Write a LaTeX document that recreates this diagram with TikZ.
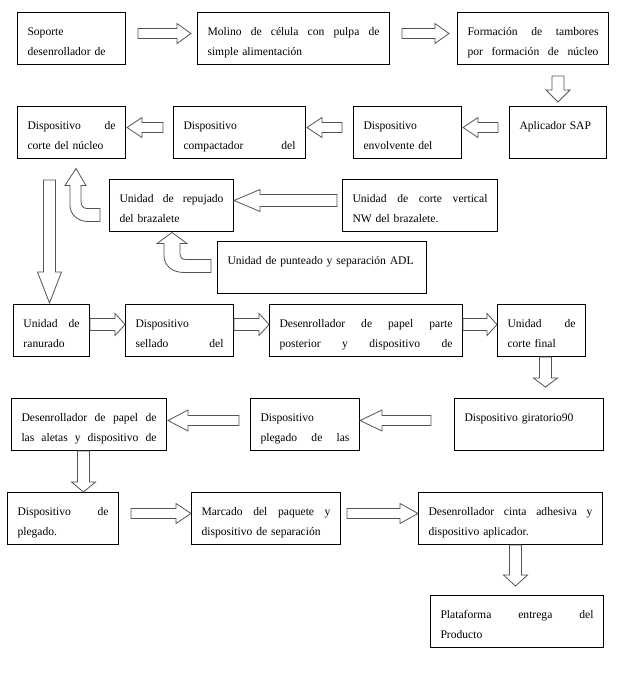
\documentclass[tikz,border=0pt]{standalone}
\usepackage{fontspec}
\setmainfont{Liberation Serif}
\usetikzlibrary{calc}

\tikzset{
    caja/.style={draw, line width=0.75pt, anchor=north west, minimum height=39pt,
        inner xsep=7.5pt, inner ysep=2pt, align=left,
        font=\fontsize{8.7}{15}\selectfont,
        execute at begin node={\rule{0pt}{14.3pt}},
        execute at end node={\unskip\strut}},
    flechabloque/.style={draw=gray!65!black, fill=white, line width=0.6pt}
}

% Blocksatz-Zeile
\newcommand{\justa}[1]{\leavevmode\hbox to\hsize{\spaceskip=0.25em plus 1fil\relax#1}}

% Blockpfeil: von #1 nach #2, Schaft #3, Kopf #4, Kopflaenge #5
\newcommand{\flecha}[5]{%
    \coordinate (fA) at (#1);
    \coordinate (fB) at (#2);
    \coordinate (fH) at ($(fB)!#5!(fA)$);
    \draw[flechabloque] ($(fA)!#3!90:(fB)$) -- ($(fH)!#3!90:(fB)$) -- ($(fH)!#4!90:(fB)$) -- (fB)
        -- ($(fH)!#4!-90:(fB)$) -- ($(fH)!#3!-90:(fB)$) -- ($(fA)!#3!-90:(fB)$) -- cycle;
}

\begin{document}
\begin{tikzpicture}[x=0.75pt,y=-0.75pt]
    \useasboundingbox (0,0) rectangle (618,700);

    % Fila 1
    \node[caja, text width=66pt] (soporte) at (17,12) {Soporte\\desenrollador de};
    \node[caja, text width=129pt] (molino) at (197,12) {\justa{Molino de célula con pulpa de}\\simple alimentación};
    \node[caja, text width=98.25pt] (tambores) at (457,12) {\justa{Formación de tambores}\\\justa{por formación de núcleo}};

    % Fila 2
    \node[caja, text width=57.75pt] (sap) at (509,106) {Aplicador SAP\\};
    \node[caja, text width=66pt] (envolvente) at (353,106) {Dispositivo\\envolvente del};
    \node[caja, text width=84pt] (compactador) at (173,106) {Dispositivo\\\justa{compactador del}};
    \node[caja, text width=66pt] (corte) at (17,106) {\justa{Dispositivo de}\\corte del núcleo};

    % Fila 3
    \node[caja, text width=78pt] (repujado) at (109,179) {\justa{Unidad de repujado}\\del brazalete};
    \node[caja, text width=101.25pt] (cortevertical) at (342,179) {\justa{Unidad de corte vertical}\\NW del brazalete.};
    \node[caja, text width=141.75pt] (punteado) at (217,241) {Unidad de punteado y separación ADL\\};

    % Fila 4
    \node[caja, text width=42pt] (ranurado) at (13,304) {\justa{Unidad de}\\ranurado};
    \node[caja, text width=66pt] (sellado) at (125,304) {Dispositivo\\\justa{sellado del}};
    \node[caja, text width=129.75pt] (posterior) at (269,304) {\justa{Desenrollador de papel parte}\\\justa{posterior y dispositivo de}};
    \node[caja, text width=51pt] (cortefinal) at (497,304) {\justa{Unidad de}\\corte final};

    % Fila 5
    \node[caja, text width=96.75pt] (giratorio) at (454,398) {Dispositivo giratorio90\\};
    \node[caja, text width=66.75pt] (plegadolas) at (250,398) {Dispositivo\\\justa{plegado de las}};
    \node[caja, text width=101.25pt] (aletas) at (11,398) {\justa{Desenrollador de papel de}\\\justa{las aletas y dispositivo de}};

    % Fila 6
    \node[caja, text width=68.25pt] (plegado) at (7,492) {\justa{Dispositivo de}\\plegado.};
    \node[caja, text width=96.75pt] (marcado) at (191,492) {\justa{Marcado del paquete y}\\dispositivo de separación};
    \node[caja, text width=123pt] (cinta) at (418,492) {\justa{Desenrollador cinta adhesiva y}\\dispositivo aplicador.};
    \node[caja, text width=114.75pt] (plataforma) at (430,595) {\justa{Plataforma entrega del}\\Producto};

    % Pfeile
    \flecha{[shift={(12,-5)}]soporte.east}{[shift={(-6,-5)}]molino.west}{3.75pt}{7.5pt}{10.5pt}
    \flecha{[shift={(12,-5)}]molino.east}{[shift={(-8,-5)}]tambores.west}{3.75pt}{7.5pt}{10.5pt}
    \flecha{[shift={(25,11)}]tambores.south}{[shift={(0,-4)}]sap.north}{4.5pt}{9pt}{9pt}
    \flecha{[shift={(-11,-5)}]sap.west}{[shift={(1,-5)}]envolvente.east}{3.75pt}{7.5pt}{11.25pt}
    \flecha{[shift={(-11,-5)}]envolvente.west}{[shift={(1,-5)}]compactador.east}{3.75pt}{7.5pt}{11.25pt}
    \flecha{[shift={(-10,-5)}]compactador.west}{[shift={(1,-5)}]corte.east}{3.75pt}{7.5pt}{11.25pt}
    \flecha{[shift={(-22,21)}]corte.south}{[shift={(-2,-1)}]ranurado.north}{4.5pt}{9pt}{23.25pt}
    \flecha{[shift={(-5,-5)}]cortevertical.west}{[shift={(0,-5)}]repujado.east}{4.5pt}{8.25pt}{19.5pt}
    \flecha{[shift={(0,-6)}]ranurado.east}{[shift={(0,-6)}]sellado.west}{4.5pt}{8.25pt}{7.5pt}
    \flecha{[shift={(0,-6)}]sellado.east}{[shift={(0,-6)}]posterior.west}{4.5pt}{8.25pt}{7.5pt}
    \flecha{[shift={(0,-6)}]posterior.east}{[shift={(0,-6)}]cortefinal.west}{4.5pt}{8.25pt}{7.5pt}
    \flecha{[shift={(4,0)}]cortefinal.south}{[shift={(16.5,-11)}]giratorio.north}{4.5pt}{9pt}{6.75pt}
    \flecha{[shift={(-23,-4)}]giratorio.west}{[shift={(0,-4)}]plegadolas.east}{3.75pt}{7.875pt}{16.5pt}
    \flecha{[shift={(-11,-4)}]plegadolas.west}{[shift={(1,-4)}]aletas.east}{3.75pt}{7.875pt}{15pt}
    \flecha{[shift={(-5.5,0)}]aletas.south}{[shift={(20.5,0)}]plegado.north}{4.5pt}{9pt}{7.5pt}
    \flecha{[shift={(12,-5)}]plegado.east}{[shift={(0,-5)}]marcado.west}{3.75pt}{7.5pt}{11.25pt}
    \flecha{[shift={(6,-5)}]marcado.east}{[shift={(0,-5)}]cinta.west}{3.75pt}{7.5pt}{13.5pt}
    \flecha{[shift={(5,0)}]cinta.south}{[shift={(-1.5,-9)}]plataforma.north}{4.5pt}{9pt}{8.25pt}

    % Gebogene Pfeile
    \draw[flechabloque, shift={(repujado.west)}] (-9,16) -- (-21,16) .. controls (-31,16) and (-39,9) .. (-39,0)
        -- (-39,-20) -- (-44,-20) -- (-33,-37) -- (-23,-20) -- (-28,-20) -- (-28,-4)
        .. controls (-28,0) and (-26,3) .. (-22,3) -- (-9,3) -- cycle;
    \draw[flechabloque, shift={(punteado.west)}] (-6,5) -- (-33,5) .. controls (-45,5) and (-53,-2) .. (-53,-12)
        -- (-53,-24) -- (-60,-24) -- (-45,-35) -- (-30,-24) -- (-37,-24) -- (-37,-13)
        .. controls (-37,-10) and (-35,-8) .. (-31,-8) -- (-6,-8) -- cycle;
\end{tikzpicture}
\end{document}
